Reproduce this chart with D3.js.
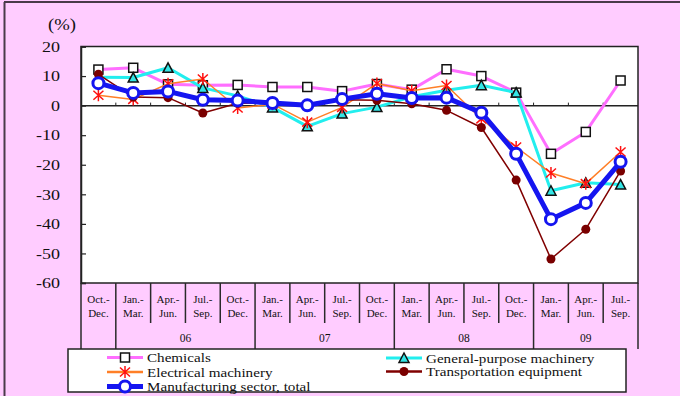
<!DOCTYPE html>
<html>
<head>
<meta charset="utf-8">
<script src="https://cdn.jsdelivr.net/npm/d3@7"></script>
<style>
  html, body { margin: 0; padding: 0; background: #FFCCFF; }
  svg { display: block; }
</style>
</head>
<body>
<svg id="chart" width="680" height="396"></svg>
<script>
// ---- data ----
const catTop = ["Oct.-","Jan.-","Apr.-","Jul.-","Oct.-","Jan.-","Apr.-","Jul.-","Oct.-","Jan.-","Apr.-","Jul.-","Oct.-","Jan.-","Apr.-","Jul.-"];
const catBottom = ["Dec.","Mar.","Jun.","Sep.","Dec.","Mar.","Jun.","Sep.","Dec.","Mar.","Jun.","Sep.","Dec.","Mar.","Jun.","Sep."];
const yearOfCat = ["05","06","06","06","06","07","07","07","07","08","08","08","08","09","09","09"];
const yearShown = ["06","07","08","09"];
const yTicks = [20,10,0,-10,-20,-30,-40,-50,-60];

const chemicals = [12.2, 12.8, 7.2, 6.9, 7.0, 6.3, 6.3, 4.9, 7.3, 5.4, 12.3, 10.0, 4.4, -16.3, -8.9, 8.5];
const generalPurpose = [9.6, 9.5, 12.8, 6.0, 3.3, -0.6, -7.0, -2.7, -0.5, 3.0, 5.2, 6.9, 4.4, -28.8, -26.1, -26.7];
const electrical = [3.5, 2.1, 7.4, 9.0, -0.8, 0.5, -5.6, -0.6, 7.5, 5.0, 6.8, -4.5, -14.0, -22.8, -26.4, -15.7];
const transport = [10.6, 2.9, 2.7, -2.5, 0.8, 1.0, 0.5, 2.0, 1.8, 0.6, -1.6, -7.4, -25.2, -51.9, -41.8, -22.1];
const manufacturing = [7.6, 4.3, 4.8, 2.0, 1.7, 0.9, 0.1, 2.2, 4.0, 2.6, 2.7, -2.4, -16.3, -38.4, -32.9, -19.0];

const seriesNames = ["Chemicals","General-purpose machinery","Electrical machinery","Transportation equipment","Manufacturing sector, total"];

// ---- pick an installed serif font ----
function hasFont(name) {
  const c = document.createElement("canvas").getContext("2d");
  const s = "Chemicals -60 machinery WMil";
  let diff = false;
  ["monospace", "sans-serif"].forEach(fb => {
    c.font = `30px ${fb}`; const w0 = c.measureText(s).width;
    c.font = `30px "${name}", ${fb}`; const w1 = c.measureText(s).width;
    if (Math.abs(w0 - w1) > 0.5) diff = true;
  });
  return diff;
}
const candidates = ["Liberation Serif", "Times New Roman", "Tinos", "DejaVu Serif", "Noto Serif", "FreeSerif", "Nimbus Roman", "Times"];
const found = candidates.find(hasFont);
const FONT = found ? `"${found}", serif` : "serif";

// ---- layout ----
const svg = d3.select("#chart");
const L = 81, R = 638, T = 46.5, B = 283;
const catRowB = 323, yearRowB = 349;

const x = d3.scaleBand().domain(d3.range(catTop.length)).range([L, R]).padding(0);
const y = d3.scaleLinear().domain([-60, 20]).range([B, T]);
const cx = i => x(i) + x.bandwidth() / 2;

function txt(sel) { return sel.attr("font-family", FONT).style("font-family", FONT).attr("fill", "#111"); }

// outer frame
svg.append("line").attr("x1", 4).attr("x2", 680).attr("y1", 2).attr("y2", 2).attr("stroke", "#4a3a4a").attr("stroke-width", 2);
svg.append("line").attr("x1", 4.5).attr("x2", 4.5).attr("y1", 2).attr("y2", 396).attr("stroke", "#4a3a4a").attr("stroke-width", 2);

// plot bg
svg.append("rect").attr("x", L).attr("y", T).attr("width", R - L).attr("height", B - T)
  .attr("fill", "#fff").attr("stroke", "#222").attr("stroke-width", 1.5);

// y axis
const yAxis = svg.append("g").attr("transform", `translate(${L},0)`)
  .call(d3.axisLeft(y).tickValues(yTicks).tickSize(-5).tickPadding(21).tickFormat(d => String(d)));
yAxis.attr("font-family", FONT);
yAxis.select(".domain").attr("stroke", "#222").attr("stroke-width", 1.5);
yAxis.selectAll(".tick line").attr("stroke", "#222").attr("stroke-width", 1.2);
txt(yAxis.selectAll("text")).attr("font-size", 15)
  .attr("x", -21 / 1.2).attr("transform", "scale(1.2,1)");

txt(svg.append("text")).attr("transform", "translate(48,30) scale(1.1,1)").attr("font-size", 17).text("(%)");

// zero line with small ticks
svg.append("line").attr("x1", L).attr("x2", R).attr("y1", y(0)).attr("y2", y(0)).attr("stroke", "#222").attr("stroke-width", 1.5);
svg.selectAll(".zt").data(d3.range(1, catTop.length)).enter().append("line")
  .attr("x1", i => x(i)).attr("x2", i => x(i)).attr("y1", y(0)).attr("y2", y(0) - 3)
  .attr("stroke", "#222").attr("stroke-width", 1);

// category grid
d3.range(0, catTop.length + 1).forEach(i => {
  const xx = i < catTop.length ? x(i) : R;
  const full = i === 0 || i === catTop.length || yearOfCat[i] !== yearOfCat[i - 1];
  svg.append("line").attr("x1", xx).attr("x2", xx).attr("y1", B).attr("y2", full ? yearRowB : catRowB)
    .attr("stroke", "#2a2a2a").attr("stroke-width", 1.5);
});
txt(svg.selectAll(".ct").data(catTop).enter().append("text"))
  .attr("x", (d, i) => cx(i)).attr("y", 303).attr("text-anchor", "middle").attr("font-size", 11).text(d => d);
txt(svg.selectAll(".cb").data(catBottom).enter().append("text"))
  .attr("x", (d, i) => cx(i)).attr("y", 317).attr("text-anchor", "middle").attr("font-size", 11).text(d => d);
yearShown.forEach(yr => {
  const idx = d3.range(catTop.length).filter(i => yearOfCat[i] === yr);
  const x0 = x(idx[0]), x1 = x(idx[idx.length - 1]) + x.bandwidth();
  txt(svg.append("text")).attr("x", (x0 + x1) / 2).attr("y", 342).attr("text-anchor", "middle").attr("font-size", 11.5).text(yr);
});

// series drawing
const line = d3.line().x((d, i) => cx(i)).y(d => y(d));
const plot = svg.append("g");

function markerSquare(g) { g.append("rect").attr("x", -4.5).attr("y", -4.5).attr("width", 9).attr("height", 9).attr("fill", "#fff").attr("stroke", "#111").attr("stroke-width", 1.5); }
function markerTri(g) { g.append("path").attr("d", "M0,-5L5,4.5L-5,4.5Z").attr("fill", "#33E6E6").attr("stroke", "#111").attr("stroke-width", 1.5); }
function markerStar(g) { g.append("path").attr("d", "M-5,-4.5L5,4.5M-5,4.5L5,-4.5M0,-6L0,6").attr("stroke", "#FF1010").attr("stroke-width", 1.5).attr("fill", "none"); }
function markerDot(g) { g.append("circle").attr("r", 4.5).attr("fill", "#7A0000"); }
function markerRing(g) { g.append("circle").attr("r", 5.5).attr("fill", "#fff").attr("stroke", "#1515F0").attr("stroke-width", 3); }

const series = [
  { data: chemicals, color: "#FF6EFF", width: 3, marker: markerSquare },
  { data: generalPurpose, color: "#22EEEE", width: 3, marker: markerTri },
  { data: electrical, color: "#FF7F27", width: 1.5, marker: markerStar },
  { data: transport, color: "#800000", width: 1.5, marker: markerDot },
  { data: manufacturing, color: "#1515F0", width: 5, marker: markerRing }
];

series.forEach(s => {
  plot.append("path").datum(s.data).attr("d", line).attr("fill", "none")
    .attr("stroke", s.color).attr("stroke-width", s.width).attr("stroke-linejoin", "round");
  s.data.forEach((v, i) => {
    const g = plot.append("g").attr("transform", `translate(${cx(i)},${y(v)})`);
    s.marker(g);
  });
});

// legend
svg.append("rect").attr("x", 68).attr("y", 349).attr("width", 558).attr("height", 43)
  .attr("fill", "#fff").attr("stroke", "#222").attr("stroke-width", 1.5);
const legendPos = [
  { x0: 107, ly: 357.5, tx: 147 },
  { x0: 386, ly: 358, tx: 426 },
  { x0: 107, ly: 372, tx: 147 },
  { x0: 386, ly: 371.5, tx: 426 },
  { x0: 107, ly: 386.5, tx: 147 }
];
series.forEach((s, k) => {
  const p = legendPos[k];
  svg.append("line").attr("x1", p.x0).attr("x2", p.x0 + 36).attr("y1", p.ly).attr("y2", p.ly)
    .attr("stroke", s.color).attr("stroke-width", Math.max(s.width, 2.5));
  const g = svg.append("g").attr("transform", `translate(${p.x0 + 18},${p.ly})`);
  s.marker(g);
  txt(svg.append("text")).attr("transform", `translate(${p.tx},${p.ly + 4.5}) scale(1.12,1)`)
    .attr("font-size", 13.5).text(seriesNames[k]);
});
</script>
</body>
</html>
